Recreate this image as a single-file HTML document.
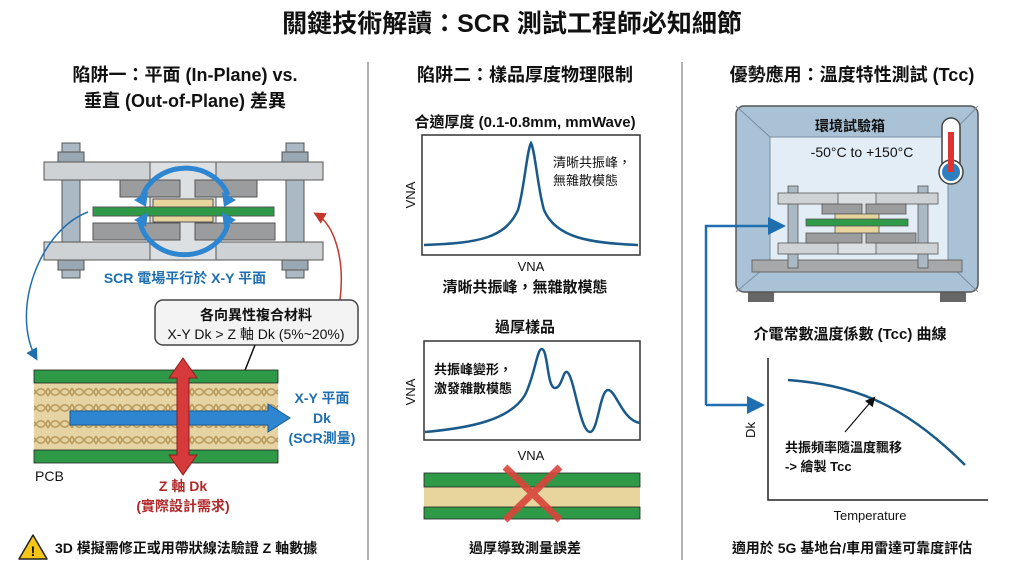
<!DOCTYPE html>
<html><head><meta charset="utf-8"><style>
html,body{margin:0;padding:0;background:#fff;}
svg{display:block;font-family:"Liberation Sans","Noto Sans CJK TC",sans-serif;}
</style></head><body>
<svg width="1024" height="572" viewBox="0 0 1024 572" xmlns="http://www.w3.org/2000/svg">
<defs>
<marker id="ab" markerUnits="userSpaceOnUse" markerWidth="12" markerHeight="12" refX="9" refY="6" orient="auto"><path d="M0,0 L12,6 L0,12 z" fill="#1f6fb0"/></marker>
<marker id="ab2" markerUnits="userSpaceOnUse" markerWidth="18" markerHeight="18" refX="14" refY="9" orient="auto"><path d="M0,0 L18,9 L0,18 z" fill="#1f6fb0"/></marker>
<marker id="ar" markerUnits="userSpaceOnUse" markerWidth="12" markerHeight="12" refX="9" refY="6" orient="auto"><path d="M0,0 L12,6 L0,12 z" fill="#c0392b"/></marker>
<marker id="ak" markerUnits="userSpaceOnUse" markerWidth="10" markerHeight="10" refX="8" refY="5" orient="auto"><path d="M0,0 L10,5 L0,10 z" fill="#111"/></marker>
<pattern id="weave" width="24" height="16" patternUnits="userSpaceOnUse">
<rect width="24" height="16" fill="#e6d3a3"/>
<path d="M0,12 Q6,0 12,8 T24,4 M0,4 Q6,16 12,8 T24,12" stroke="#b89a5c" stroke-width="1.5" fill="none"/>
</pattern>
</defs>
<text x="512" y="32" text-anchor="middle" font-size="25" font-weight="bold" fill="#111">關鍵技術解讀：SCR 測試工程師必知細節</text>
<line x1="368" y1="62" x2="368" y2="560" stroke="#999" stroke-width="1.5"/>
<line x1="682" y1="62" x2="682" y2="560" stroke="#999" stroke-width="1.5"/>

<!-- LEFT -->
<text x="185" y="81" text-anchor="middle" font-size="18" font-weight="bold" fill="#111">陷阱一：平面 (In-Plane) vs.</text>
<text x="185" y="107" text-anchor="middle" font-size="18" font-weight="bold" fill="#111">垂直 (Out-of-Plane) 差異</text>
<g stroke="#555" stroke-width="1">
<rect x="62" y="143" width="18" height="135" fill="#aab9c4"/>
<rect x="286" y="143" width="18" height="135" fill="#aab9c4"/>
<rect x="58" y="152" width="26" height="10" fill="#9aa8b3"/>
<rect x="282" y="152" width="26" height="10" fill="#9aa8b3"/>
<rect x="58" y="260" width="26" height="10" fill="#9aa8b3"/>
<rect x="282" y="260" width="26" height="10" fill="#9aa8b3"/>
<rect x="44" y="162" width="279" height="18" fill="#cfd2d4"/>
<rect x="44" y="242" width="279" height="18" fill="#cfd2d4"/>
<rect x="150" y="162" width="66" height="98" fill="#dde0e2"/>
<rect x="120" y="180" width="60" height="17" fill="#9a9c9e"/>
<rect x="195" y="180" width="62" height="17" fill="#9a9c9e"/>
<rect x="93" y="223" width="87" height="17" fill="#9a9c9e"/>
<rect x="195" y="223" width="80" height="17" fill="#9a9c9e"/>
<rect x="153" y="199" width="60" height="23" fill="#e8d59e"/>
<rect x="93" y="207" width="181" height="9" fill="#2e9a48"/>
</g>
<g fill="none" stroke="#2f86d0" stroke-width="5">
<path d="M142,198 A45,40 0 0 1 228,195"/>
<path d="M140,222 A45,40 0 0 0 228,224"/>
</g>
<path d="M134,200 L148,192 L146,207z M236,200 L222,192 L224,207z M134,220 L148,212 L146,227z M236,220 L222,212 L224,227z" fill="#2f86d0"/>
<text x="185" y="283" text-anchor="middle" font-size="14" font-weight="bold" fill="#1f6fb0">SCR 電場平行於 X-Y 平面</text>
<path d="M88,212 C40,230 10,310 36,358" fill="none" stroke="#1f6fb0" stroke-width="1.5" marker-end="url(#ab)"/>
<path d="M340,300 C345,260 335,225 316,214" fill="none" stroke="#c0392b" stroke-width="1.5" marker-end="url(#ar)"/>
<rect x="155" y="300" width="203" height="45" rx="8" fill="#f3f3f3" stroke="#444" stroke-width="1.5"/>
<text x="256" y="320" text-anchor="middle" font-size="14" font-weight="bold" fill="#111">各向異性複合材料</text>
<text x="256" y="339" text-anchor="middle" font-size="14" fill="#111">X-Y Dk &gt; Z 軸 Dk (5%~20%)</text>
<line x1="255" y1="345" x2="236" y2="393" stroke="#111" stroke-width="1.5" marker-end="url(#ak)"/>
<rect x="34" y="370" width="244" height="93" fill="url(#weave)"/>
<rect x="34" y="370" width="244" height="13" fill="#2e9a48" stroke="#222" stroke-width="0.8"/>
<rect x="34" y="450" width="244" height="13" fill="#2e9a48" stroke="#222" stroke-width="0.8"/>
<path d="M70,411 L268,411 L268,404 L290,418 L268,432 L268,425 L70,425z" fill="#2f86d0" stroke="#1a5a90"/>
<path d="M183,358 L197,378 L189,378 L189,455 L197,455 L183,475 L169,455 L177,455 L177,378 L169,378z" fill="#d63a3a" stroke="#8b1f1f"/>
<text x="322" y="403" text-anchor="middle" font-size="14" font-weight="bold" fill="#1f6fb0">X-Y 平面</text>
<text x="322" y="423" text-anchor="middle" font-size="14" font-weight="bold" fill="#1f6fb0">Dk</text>
<text x="322" y="443" text-anchor="middle" font-size="14" font-weight="bold" fill="#1f6fb0">(SCR測量)</text>
<text x="35" y="481" font-size="14" fill="#111">PCB</text>
<text x="183" y="491" text-anchor="middle" font-size="14" font-weight="bold" fill="#b02a2a">Z 軸 Dk</text>
<text x="183" y="511" text-anchor="middle" font-size="14" font-weight="bold" fill="#b02a2a">(實際設計需求)</text>
<path d="M33,535 L47,559 L19,559z" fill="#f5c518" stroke="#222" stroke-width="1.5" stroke-linejoin="round"/>
<text x="33" y="556" text-anchor="middle" font-size="14" font-weight="bold" fill="#111">!</text>
<text x="55" y="553" font-size="14" font-weight="bold" fill="#111">3D 模擬需修正或用帶狀線法驗證 Z 軸數據</text>

<!-- MIDDLE -->
<text x="525" y="81" text-anchor="middle" font-size="18" font-weight="bold" fill="#111">陷阱二：樣品厚度物理限制</text>
<text x="525" y="127" text-anchor="middle" font-size="15" font-weight="bold" fill="#111">合適厚度 (0.1-0.8mm, mmWave)</text>
<rect x="422" y="135" width="218" height="120" fill="#fff" stroke="#333" stroke-width="1.5"/>
<path d="M424,245 C480,243 505,238 518,210 C524,190 527,150 531,143 C535,150 538,190 544,210 C556,238 590,243 638,245" fill="none" stroke="#1a5a8a" stroke-width="2.5"/>
<text x="553" y="167" font-size="13" fill="#111">清晰共振峰，</text>
<text x="553" y="185" font-size="13" fill="#111">無雜散模態</text>
<text transform="translate(415,195) rotate(-90)" text-anchor="middle" font-size="13" fill="#111">VNA</text>
<text x="531" y="271" text-anchor="middle" font-size="13" fill="#111">VNA</text>
<text x="525" y="292" text-anchor="middle" font-size="15" font-weight="bold" fill="#111">清晰共振峰，無雜散模態</text>
<text x="525" y="332" text-anchor="middle" font-size="15" font-weight="bold" fill="#111">過厚樣品</text>
<rect x="424" y="341" width="216" height="99" fill="#fff" stroke="#333" stroke-width="1.5"/>
<path d="M425,432 C470,428 510,420 525,395 C535,375 537,348 542,349 C548,350 547,388 555,388 C562,388 563,370 567,372 C574,375 580,432 590,432 C598,432 600,390 608,390 C616,390 622,420 640,423" fill="none" stroke="#1a5a8a" stroke-width="2.5"/>
<text x="434" y="374" font-size="13" font-weight="bold" fill="#111">共振峰變形，</text>
<text x="434" y="393" font-size="13" font-weight="bold" fill="#111">激發雜散模態</text>
<text transform="translate(415,392) rotate(-90)" text-anchor="middle" font-size="13" fill="#111">VNA</text>
<text x="531" y="460" text-anchor="middle" font-size="13" fill="#111">VNA</text>
<rect x="424" y="473" width="216" height="44" fill="#e8d59e"/>
<rect x="424" y="473" width="216" height="14" fill="#2e9a48" stroke="#222" stroke-width="0.8"/>
<rect x="424" y="507" width="216" height="12" fill="#2e9a48" stroke="#222" stroke-width="0.8"/>
<path d="M505,467 L560,520 M560,467 L505,520" stroke="#d9443a" stroke-width="7" opacity="0.9"/>
<text x="525" y="553" text-anchor="middle" font-size="14" font-weight="bold" fill="#111">過厚導致測量誤差</text>

<!-- RIGHT -->
<text x="852" y="81" text-anchor="middle" font-size="18" font-weight="bold" fill="#111">優勢應用：溫度特性測試 (Tcc)</text>
<rect x="748" y="290" width="26" height="12" fill="#666"/>
<rect x="940" y="290" width="26" height="12" fill="#666"/>
<rect x="736" y="106" width="242" height="186" rx="8" fill="#a9c2d6" stroke="#555" stroke-width="1.5"/>
<rect x="770" y="137" width="178" height="126" fill="#e3edf5" stroke="#7a8e9f"/>
<path d="M736,106 L770,137 M978,106 L948,137 M736,292 L770,263 M978,292 L948,263" stroke="#7a8e9f"/>
<text x="850" y="131" text-anchor="middle" font-size="14" font-weight="bold" fill="#111">環境試驗箱</text>
<text x="862" y="157" text-anchor="middle" font-size="14" fill="#111">-50°C to +150°C</text>
<rect x="942" y="118" width="18" height="56" rx="9" fill="#fff" stroke="#444" stroke-width="1.5"/>
<circle cx="951" cy="172" r="12" fill="#fff" stroke="#444" stroke-width="1.5"/>
<circle cx="951" cy="172" r="9" fill="#2f7fc0"/>
<rect x="948" y="132" width="6" height="40" fill="#d33"/>
<g stroke="#555" stroke-width="0.8">
<rect x="752" y="260" width="210" height="12" fill="#a6a8aa"/>
<rect x="788" y="186" width="10" height="82" fill="#aab9c4"/>
<rect x="918" y="186" width="10" height="82" fill="#aab9c4"/>
<rect x="778" y="193" width="160" height="11" fill="#cfd2d4"/>
<rect x="778" y="243" width="160" height="11" fill="#cfd2d4"/>
<rect x="838" y="193" width="38" height="61" fill="#dde0e2"/>
<rect x="822" y="204" width="40" height="10" fill="#9a9c9e"/>
<rect x="866" y="204" width="40" height="10" fill="#9a9c9e"/>
<rect x="806" y="233" width="56" height="10" fill="#9a9c9e"/>
<rect x="866" y="233" width="50" height="10" fill="#9a9c9e"/>
<rect x="835" y="214" width="44" height="19" fill="#e8d59e"/>
<rect x="806" y="219" width="102" height="7" fill="#2e9a48"/>
</g>
<path d="M706,405 L706,226 L782,226" fill="none" stroke="#1f6fb0" stroke-width="2.5" marker-end="url(#ab2)"/>
<line x1="706" y1="405" x2="761" y2="405" stroke="#1f6fb0" stroke-width="2.5" marker-end="url(#ab2)"/>
<text x="850" y="339" text-anchor="middle" font-size="15" font-weight="bold" fill="#111">介電常數溫度係數 (Tcc) 曲線</text>
<path d="M768,358 L768,500 L988,500" fill="none" stroke="#222" stroke-width="1.5"/>
<path d="M788,380 C850,385 900,400 965,465" fill="none" stroke="#1a5a8a" stroke-width="2.5"/>
<text transform="translate(755,430) rotate(-90)" text-anchor="middle" font-size="13" fill="#111">Dk</text>
<line x1="845" y1="432" x2="874" y2="398" stroke="#111" stroke-width="1.2" marker-end="url(#ak)"/>
<text x="785" y="452" font-size="13" font-weight="bold" fill="#111">共振頻率隨溫度飄移</text>
<text x="785" y="471" font-size="13" font-weight="bold" fill="#111">-&gt; 繪製 Tcc</text>
<text x="870" y="520" text-anchor="middle" font-size="13" fill="#111">Temperature</text>
<text x="852" y="553" text-anchor="middle" font-size="14" font-weight="bold" fill="#111">適用於 5G 基地台/車用雷達可靠度評估</text>
</svg>
</body></html>
